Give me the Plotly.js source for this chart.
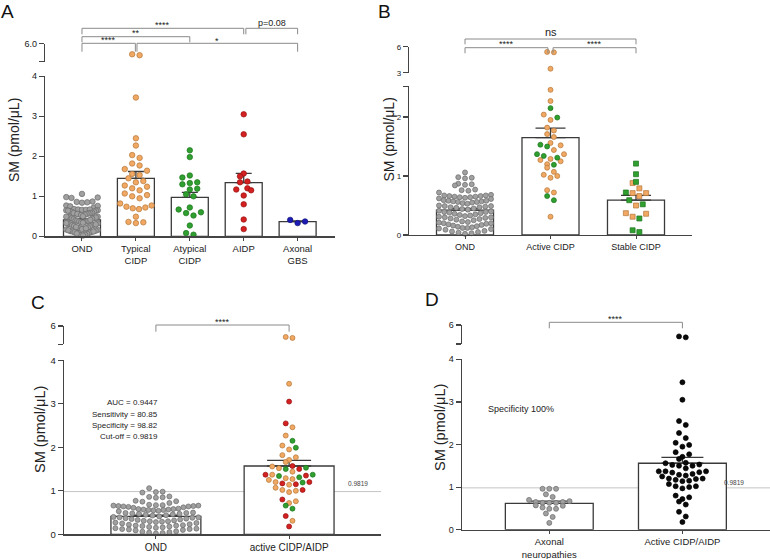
<!DOCTYPE html>
<html><head><meta charset="utf-8">
<script src="https://cdn.plot.ly/plotly-3.0.1.min.js"></script>
<style>html,body{margin:0;padding:0;background:#fff}#chart{width:770px;height:559px}</style>
</head><body><div id="chart"></div>
<script>
// ---------------- DATA ----------------
const ondValues = [
  1.06, 0.98, 0.96, 0.97, 0.87, 0.85, 0.84, 0.86, 0.77, 0.75, 0.72, 0.76,
  0.68, 0.67, 0.66, 0.66, 0.65, 0.64, 0.63, 0.62, 0.65, 0.67, 0.61, 0.64,
  0.59, 0.58, 0.57, 0.56, 0.55, 0.57, 0.58, 0.54, 0.56, 0.53,
  0.50, 0.49, 0.48, 0.47, 0.46, 0.45, 0.49, 0.47, 0.44, 0.43,
  0.40, 0.39, 0.38, 0.37, 0.36, 0.35, 0.39, 0.41, 0.34,
  0.32, 0.31, 0.30, 0.29, 0.28, 0.27, 0.30, 0.33, 0.26, 0.25,
  0.22, 0.21, 0.20, 0.19, 0.18, 0.17, 0.20, 0.23, 0.16,
  0.14, 0.13, 0.12, 0.11, 0.10, 0.09, 0.15, 0.12,
  0.06, 0.05, 0.04, 0.03, 0.02, 0.07
];
const typicalCIDP = [5.35, 5.4, 3.47, 2.45, 2.27, 2.03, 1.96, 1.82, 1.77, 1.68, 1.64, 1.56, 1.53, 1.45,
  1.38, 1.35, 1.27, 1.24, 1.2, 1.15, 1.07, 1.03, 1.0, 0.95, 0.82, 0.77, 0.74, 0.72, 0.7, 0.68, 0.49, 0.36, 0.33, 0.35];
const atypicalCIDP = [2.15, 1.98, 1.52, 1.47, 1.35, 1.33, 1.3, 1.19, 1.17, 1.05, 1.0, 0.72, 0.67, 0.6, 0.58, 0.52, 0.27, 0.08, 0.04];
const aidpValues = [3.05, 2.55, 1.57, 1.5, 1.37, 1.35, 1.2, 1.17, 1.15, 1.02, 0.8, 0.42, 0.18];
const axonalGBS = [0.41, 0.37, 0.33];
const catsA = ['OND', 'Typical<br>CIDP', 'Atypical<br>CIDP', 'AIDP', 'Axonal<br>GBS'];
const meansA = [0.41, 1.45, 0.975, 1.34, 0.365];
const semsA = [0.03, 0.17, 0.125, 0.235, 0.02];

const activeTypical = [5.35, 5.4, 3.46, 2.46, 2.27, 2.04, 1.95, 1.82, 1.77, 1.71, 1.66, 1.56, 1.52, 1.44,
  1.37, 1.29, 1.27, 1.25, 1.2, 1.14, 1.07, 1.0, 0.97, 1.02, 0.76, 0.72, 0.31];
const activeAtypical = [2.15, 1.99, 1.53, 1.5, 1.37, 1.34, 1.31, 1.19, 0.66, 0.59];
const stableTypical = [0.88, 0.79, 0.71, 0.71, 0.66, 0.5, 0.37, 0.36, 0.31];
const stableAtypical = [1.21, 1.03, 0.9, 0.72, 0.59, 0.52, 0.28, 0.05, 0.08];
const catsB = ['OND', 'Active CIDP', 'Stable CIDP'];
const meansB = [0.42, 1.65, 0.59];
const semsB = [0.03, 0.16, 0.08];

const catsC = ['OND', 'active CIDP/AIDP'];
const meansC = [0.41, 1.57];
const semsC = [0.03, 0.13];
const rocStats = ['AUC = 0.9447', 'Sensitivity = 80.85', 'Specificity = 98.82', 'Cut-off = 0.9819'];
const cutoff = 0.9819;
const cutoffLabel = '0.9819';

const axonalNeuropathies = [0.96, 0.96, 0.96, 0.83, 0.77, 0.70, 0.65, 0.63, 0.63, 0.65, 0.63, 0.67,
  0.52, 0.49, 0.57, 0.49, 0.56, 0.38, 0.30, 0.16];
const catsD = ['Axonal<br>neuropathies', 'Active CIDP/AIDP'];
const meansD = [0.62, 1.56];
const semsD = [0.05, 0.14];
const specText = 'Specificity 100%';

// ---------------- STYLE / LAYOUT ----------------
const W = 770, H = 559;
const fx = p => p / W;
const fy = p => 1 - p / H;
const FONT = 'Liberation Sans, Arial, sans-serif';
const AX = '#444';
const COL = {
  gray: ['#a0a0a0', '#6a6a6a'], orange: ['#f0a862', '#b5773a'], green: ['#2f9f2f', '#1d741d'],
  red: ['#d42020', '#951212'], blue: ['#1c1cb4', '#10107a'], black: ['#0a0a0a', '#000000']
};

const P = {
  A: {xa: 'x', ya: 'y', yu: 'y2', xPx: [45, 334.6], xRange: [-0.686, 4.686], lowPx: [236.3, 76.3], lowRange: [0, 4],
      upPx: [61.5, 43.5], upRange: [5, 6], lowTicks: [0, 1, 2, 3, 4], lowText: ['0', '1', '2', '3', '4'],
      upText: ['', '6.0'], dot: 5.5, barW: 0.686, cap: 8, tickSize: 9, catSize: 9.5, cats: catsA, means: meansA, sems: semsA},
  B: {xa: 'x2', ya: 'y3', yu: 'y4', xPx: [409, 692], xRange: [-0.655, 2.655], lowPx: [235, 86.3], lowRange: [0, 2.52],
      upPx: [72.7, 46.7], upRange: [3, 6], lowTicks: [0, 1, 2, 2.52], lowText: ['0', '1', '2', ''],
      upText: ['3', '6'], dot: 5, barW: 0.667, cap: 15, tickSize: 8, catSize: 9, cats: catsB, means: meansB, sems: semsB},
  C: {xa: 'x3', ya: 'y5', yu: 'y6', xPx: [64, 381], xRange: [-0.69, 1.69], lowPx: [534.3, 360.3], lowRange: [0, 4],
      upPx: [344.3, 326], upRange: [5, 6], lowTicks: [0, 1, 2, 3, 4], lowText: ['0', '1', '2', '3', '4'],
      upText: ['', '6'], dot: 5, barW: 0.675, cap: 22, tickSize: 9.5, catSize: 10, cats: catsC, means: meansC, sems: semsC},
  D: {xa: 'x4', ya: 'y7', yu: 'y8', xPx: [461.7, 770], xRange: [-0.658, 1.658], lowPx: [529.7, 359.3], lowRange: [0, 4],
      upPx: [344, 325], upRange: [5, 6], lowTicks: [0, 1, 2, 3, 4], lowText: ['0', '1', '2', '3', '4'],
      upText: ['', '6'], dot: 5, barW: 0.66, cap: 21, tickSize: 9, catSize: 9.5, cats: catsD, means: meansD, sems: semsD}
};

const axKey = id => id[0] + 'axis' + id.slice(1);

// GraphPad-like scatter layout: group points into rows by value, spread each row sideways
function swarmOffsets(vals, ky, d, halfW, gapF) {
  const idx = vals.map((v, i) => i).sort((a, b) => vals[a] - vals[b]);
  const h = 1.1 * d / ky;
  const off = new Array(vals.length).fill(0);
  let row = [], start = null;
  const flush = () => {
    const n = row.length;
    if (!n) return;
    const s = n > 1 ? Math.min(gapF * d, 2 * halfW / (n - 1)) : 0;
    row.forEach((id, k) => {
      let slot;
      if (n % 2) slot = k === 0 ? 0 : Math.ceil(k / 2) * (k % 2 ? 1 : -1);
      else slot = (Math.floor(k / 2) + 0.5) * (k % 2 ? -1 : 1);
      off[id] = slot * s;
    });
    row = [];
  };
  idx.forEach(id => {
    if (start === null || vals[id] - start > h) { flush(); start = vals[id]; }
    row.push(id);
  });
  flush();
  return off;
}

const traces = [];
const layout = {
  width: W, height: H, margin: {l: 0, r: 0, t: 0, b: 0}, showlegend: false,
  paper_bgcolor: '#fff', plot_bgcolor: 'rgba(0,0,0,0)', font: {family: FONT, color: '#333'},
  shapes: [], annotations: []
};

Object.values(P).forEach(p => {
  const idx = p.cats.map((c, i) => i);
  layout[axKey(p.xa)] = {
    domain: [fx(p.xPx[0]), fx(p.xPx[1])], range: p.xRange, anchor: p.ya, tickmode: 'array',
    tickvals: idx, ticktext: p.cats, ticks: 'outside', ticklen: 3, tickwidth: 1, tickcolor: AX,
    showline: true, linecolor: AX, linewidth: 1.2, showgrid: false, zeroline: false,
    tickfont: {size: p.catSize, family: FONT, color: '#222'}, ticklabelstandoff: 0, fixedrange: true
  };
  layout[axKey(p.ya)] = {
    domain: [fy(p.lowPx[0]), fy(p.lowPx[1])], range: p.lowRange, anchor: p.xa, tickmode: 'array',
    tickvals: p.lowTicks, ticktext: p.lowText, ticks: 'outside', ticklen: 5, tickwidth: 1.2, tickcolor: AX,
    showline: true, linecolor: AX, linewidth: 1.2, showgrid: false, zeroline: false,
    tickfont: {size: p.tickSize, family: FONT, color: '#222'}, fixedrange: true
  };
  layout[axKey(p.yu)] = {
    domain: [fy(p.upPx[0]), fy(p.upPx[1])], range: p.upRange, anchor: p.xa, tickmode: 'array',
    tickvals: p.upRange, ticktext: p.upText, ticks: 'outside', ticklen: 5, tickwidth: 1.2, tickcolor: AX,
    showline: true, linecolor: AX, linewidth: 1.2, showgrid: false, zeroline: false,
    tickfont: {size: p.tickSize, family: FONT, color: '#222'}, fixedrange: true
  };
  traces.push({
    type: 'bar', x: idx, y: p.means, width: p.barW, xaxis: p.xa, yaxis: p.ya, hoverinfo: 'skip',
    marker: {color: '#ffffff', line: {color: '#3a3a3a', width: 1.3}},
    error_y: {type: 'data', symmetric: false, array: p.sems, arrayminus: p.sems.map(() => 0),
              color: '#3a3a3a', thickness: 1.3, width: p.cap}
  });
});

function addGroup(p, center, groups, symbol) {
  const vals = [], cols = [];
  groups.forEach(([v, c]) => v.forEach(x => { vals.push(x); cols.push(COL[c]); }));
  const kx = (p.xPx[1] - p.xPx[0]) / (p.xRange[1] - p.xRange[0]);
  const ky = (p.lowPx[0] - p.lowPx[1]) / (p.lowRange[1] - p.lowRange[0]);
  const halfW = p.barW / 2 * kx - p.dot / 2;
  const offs = swarmOffsets(vals, ky, p.dot, halfW, 1.35);
  const lo = {x: [], y: [], c: [], l: []}, up = {x: [], y: [], c: [], l: []};
  vals.forEach((v, i) => {
    const t = v > p.lowRange[1] ? up : lo;
    t.x.push(center + offs[i] / kx); t.y.push(v); t.c.push(cols[i][0]); t.l.push(cols[i][1]);
  });
  [lo, up].forEach((t, k) => {
    if (!t.x.length) return;
    traces.push({
      type: 'scatter', mode: 'markers', x: t.x, y: t.y, xaxis: p.xa, yaxis: k ? p.yu : p.ya,
      hoverinfo: 'skip', cliponaxis: false,
      marker: {size: p.dot, symbol: symbol || 'circle', color: t.c, line: {color: t.l, width: 0.7}}
    });
  });
}

// Panel A
addGroup(P.A, 0, [[ondValues, 'gray']]);
addGroup(P.A, 1, [[typicalCIDP, 'orange']]);
addGroup(P.A, 2, [[atypicalCIDP, 'green']]);
addGroup(P.A, 3, [[aidpValues, 'red']]);
addGroup(P.A, 4, [[axonalGBS, 'blue']]);
// Panel B
addGroup(P.B, 0, [[ondValues, 'gray']]);
addGroup(P.B, 1, [[activeTypical, 'orange'], [activeAtypical, 'green']]);
addGroup(P.B, 2, [[stableTypical, 'orange'], [stableAtypical, 'green']], 'square');
// Panel C
addGroup(P.C, 0, [[ondValues, 'gray']]);
addGroup(P.C, 1, [[activeTypical, 'orange'], [activeAtypical, 'green'], [aidpValues, 'red']]);
// Panel D
addGroup(P.D, 0, [[axonalNeuropathies, 'gray']]);
addGroup(P.D, 1, [[activeTypical, 'black'], [activeAtypical, 'black'], [aidpValues, 'black']]);

// significance brackets
function bracket(p, x1, x2, yTop, drop, label, labelY, size) {
  layout.shapes.push({
    type: 'path', xref: p.xa, yref: 'paper', layer: 'above',
    path: `M ${x1},${fy(yTop + drop)} L ${x1},${fy(yTop)} L ${x2},${fy(yTop)} L ${x2},${fy(yTop + drop)}`,
    line: {color: '#8a8a8a', width: 1}
  });
  layout.annotations.push({
    xref: p.xa, yref: 'paper', x: (x1 + x2) / 2, y: fy(labelY), text: label, showarrow: false,
    xanchor: 'center', yanchor: 'middle', font: {size: size || 9, family: FONT, color: '#222'}
  });
}
bracket(P.A, 0, 3, 28.3, 6, '****', 25);
bracket(P.A, 3.04, 4, 28.3, 6, 'p=0.08', 22.7, 9);
bracket(P.A, 0, 2, 36.7, 5.6, '**', 33.3);
bracket(P.A, 0, 0.99, 43.3, 8.4, '****', 40);
bracket(P.A, 1.02, 4, 43.3, 8.4, '*', 41);
bracket(P.B, 0, 2, 39, 5.3, 'ns', 32.5, 11);
bracket(P.B, 0, 0.97, 47.7, 5.6, '****', 44.3);
bracket(P.B, 1.03, 2, 47.7, 5.6, '****', 44.3);
bracket(P.C, 0, 1, 325, 6.7, '****', 322);
bracket(P.D, 0, 1, 322.3, 6, '****', 319);

// cut-off lines
[P.C, P.D].forEach(p => {
  layout.shapes.push({
    type: 'line', xref: p.xa + ' domain', yref: p.ya, x0: 0, x1: 1, y0: cutoff, y1: cutoff,
    layer: 'below', line: {color: '#c4c4c4', width: 1}
  });
});
layout.annotations.push({xref: 'paper', yref: 'paper', x: fx(357.5), y: fy(488.5), text: cutoffLabel,
  showarrow: false, font: {size: 6.5, family: FONT, color: '#444'}});
layout.annotations.push({xref: 'paper', yref: 'paper', x: fx(745.5), y: fy(488), text: cutoffLabel,
  showarrow: false, font: {size: 6.5, family: FONT, color: '#444'}});

// ROC stats in C
rocStats.forEach((t, i) => {
  layout.annotations.push({xref: 'paper', yref: 'paper', x: fx(160), y: fy(403 + i * 11.2), text: t,
    showarrow: false, xanchor: 'right', yanchor: 'middle', font: {size: 8, family: FONT, color: '#222'}});
});
layout.annotations.push({xref: 'paper', yref: 'paper', x: fx(486), y: fy(409.3), text: specText,
  showarrow: false, xanchor: 'left', yanchor: 'middle', font: {size: 9, family: FONT, color: '#222'}});

// y titles and panel letters
[[14, 140, 14], [388, 139.5, 14], [40, 430, 14.5], [440, 428, 14.5]].forEach(([x, y, s]) => {
  layout.annotations.push({xref: 'paper', yref: 'paper', x: fx(x), y: fy(y), text: 'SM (pmol/μL)',
    textangle: -90, showarrow: false, xanchor: 'center', yanchor: 'middle',
    font: {size: s, family: FONT, color: '#222'}});
});
[['A', 7.5, 11.5], ['B', 384, 11.5], ['C', 37.5, 302], ['D', 431.5, 299.5]].forEach(([t, x, y]) => {
  layout.annotations.push({xref: 'paper', yref: 'paper', x: fx(x), y: fy(y), text: t, showarrow: false,
    xanchor: 'center', yanchor: 'middle', font: {size: 19, family: FONT, color: '#111'}});
});

Plotly.newPlot('chart', traces, layout, {displayModeBar: false, staticPlot: true});
</script>
</body></html>
